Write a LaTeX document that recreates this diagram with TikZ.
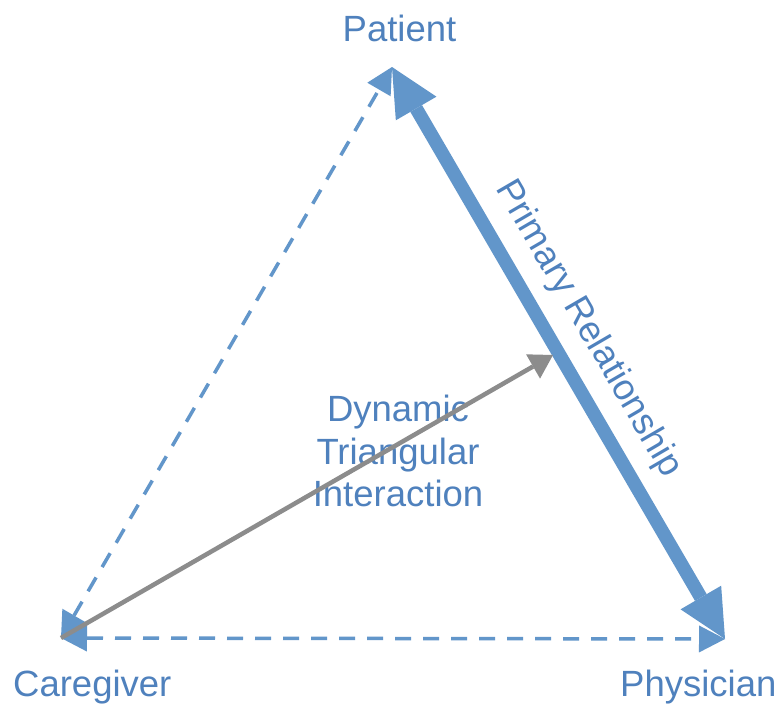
\documentclass[tikz,border=0pt]{standalone}
\usepackage{fontspec}
\setmainfont{Liberation Sans}
\usetikzlibrary{arrows.meta}
\definecolor{lineblue}{RGB}{98,150,202}
\definecolor{textblue}{RGB}{79,129,189}
\definecolor{arrowgray}{RGB}{140,140,140}
\begin{document}
\begin{tikzpicture}[x=1pt,y=-1pt,
  lbl/.style={text=textblue, font=\fontsize{36.5}{42.5}\selectfont, inner sep=0pt},
  dashlink/.style={draw=lineblue, line width=3.5pt, dash pattern=on 16pt off 12pt,
    {Triangle[length=26pt,width=27pt,line width=0pt]}-{Triangle[length=26pt,width=27pt,line width=0pt]}},
  primary/.style={draw=lineblue, line width=13.5pt,
    {Triangle[length=48pt,width=47pt,line width=0pt]}-{Triangle[length=48pt,width=47pt,line width=0pt]}},
  dynlink/.style={draw=arrowgray, line width=4.5pt,
    -{Triangle[length=23pt,width=28pt,line width=0pt]}}]
\useasboundingbox (0,0) rectangle (782,704);
\fill[white] (0,0) rectangle (782,704);
\coordinate (P) at (392,67);
\coordinate (C) at (61,638);
\coordinate (H) at (725,639);
\coordinate (G) at (553,355);
\draw[dashlink] (C) -- (P);
\draw[dashlink] (C) -- (H);
\draw[primary] (P) -- (H);
\node[lbl, anchor=base] (patient) at (399.5,41.7) {Patient};
\node[lbl, anchor=base] (caregiver) at (92.3,696) {Caregiver};
\node[lbl, anchor=base] (physician) at (698.3,696) {Physician};
\node[lbl, align=center, anchor=base] (dyn) at (398,506.5) {Dynamic\\Triangular\\Interaction};
\node[lbl, rotate=-59.8] (prim) at (588,329) {Primary Relationship};
\draw[dynlink] (C) -- (G);
\end{tikzpicture}
\end{document}
